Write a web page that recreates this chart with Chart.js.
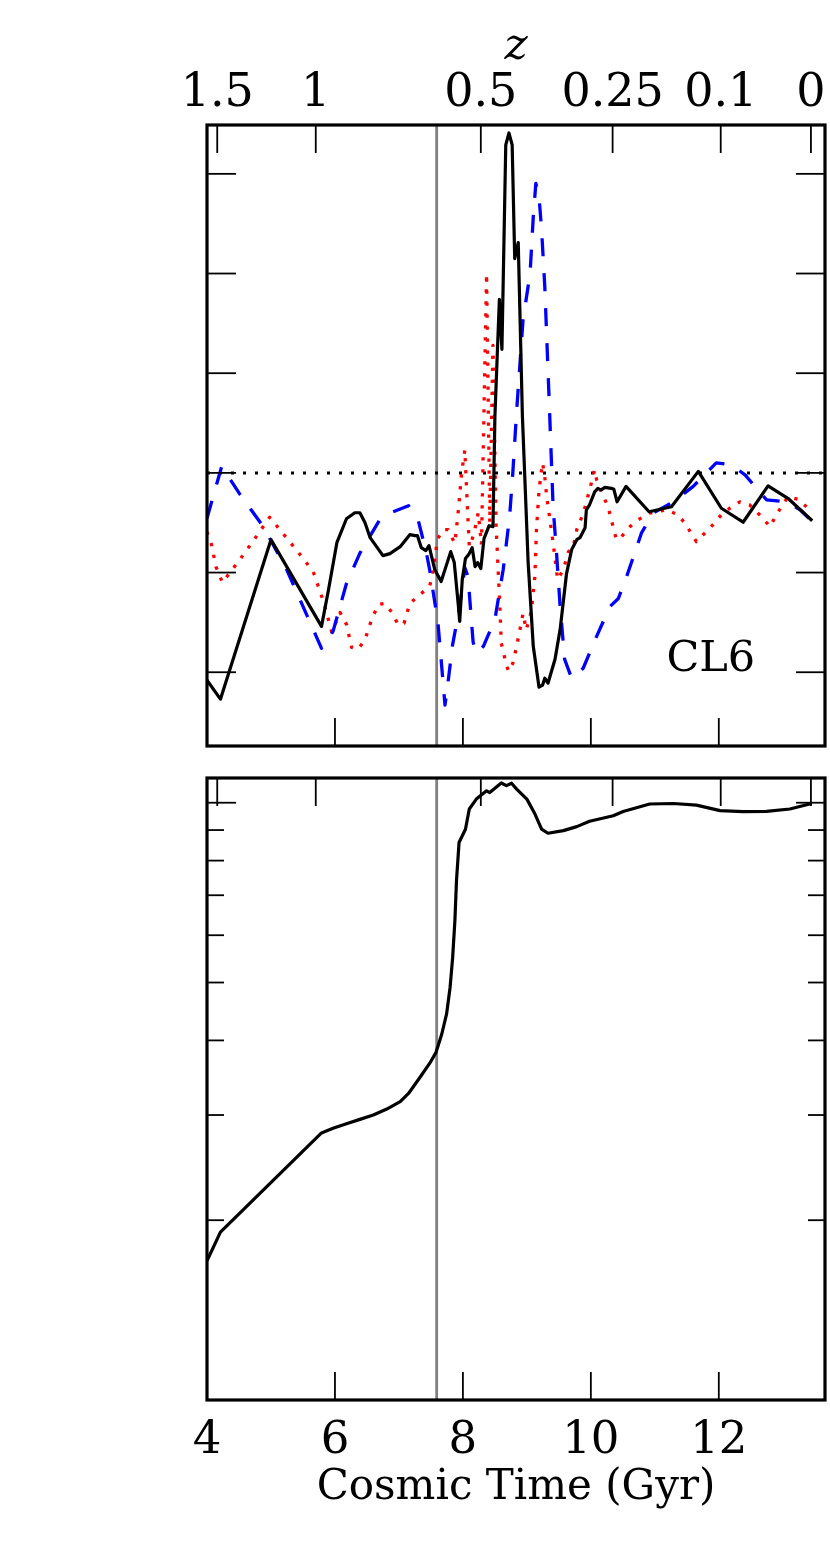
<!DOCTYPE html>
<html>
<head>
<meta charset="utf-8">
<script src="https://cdn.jsdelivr.net/npm/chart.js@4.4.1/dist/chart.umd.min.js"></script>
<style>
  html, body { margin: 0; padding: 0; background: #fff; }
  #wrap { position: relative; width: 830px; height: 1557px; }
  canvas { position: absolute; left: 0; }
  #top { top: 0; }
  #bottom { top: 760px; }
</style>
</head>
<body>
<div id="wrap">
  <canvas id="top" width="830" height="760"></canvas>
  <canvas id="bottom" width="830" height="797"></canvas>
</div>
<script>
// cosmic time axis (Gyr)
const tMin = 4;
const tMax = 13.66;
const ageTicks = [4, 6, 8, 10, 12];
// redshift ticks on the top axis, placed at their cosmic time
const zTickAges = [4.16, 5.70, 8.28, 10.34, 12.03, 13.44];
const zTickLabels = ['1.5', '1', '0.5', '0.25', '0.1', '0'];
const markAge = 7.59;

// top panel (no y labels), values are [time, value]
const topYMin = -2.74;
const topYMax = 3.49;
const topYTicks = [-2, -1, 0, 1, 2, 3];
const solidLine = [[4.00,-2.08],[4.21,-2.27],[5.00,-0.67],[5.79,-1.54],[5.90,-1.17],[6.03,-0.70],[6.18,-0.46],[6.31,-0.40],[6.39,-0.40],[6.47,-0.50],[6.55,-0.65],[6.75,-0.83],[6.86,-0.81],[7.02,-0.74],[7.17,-0.62],[7.25,-0.63],[7.29,-0.63],[7.35,-0.75],[7.42,-0.78],[7.47,-0.73],[7.56,-0.97],[7.66,-1.09],[7.81,-0.79],[7.865,-0.90],[7.93,-1.34],[7.95,-1.49],[7.99,-1.07],[8.04,-0.86],[8.09,-0.82],[8.145,-0.75],[8.19,-0.94],[8.23,-0.90],[8.28,-0.96],[8.33,-0.66],[8.41,-0.53],[8.47,-0.54],[8.50,0.56],[8.57,1.74],[8.61,1.24],[8.67,3.29],[8.72,3.41],[8.77,3.29],[8.81,2.15],[8.865,2.31],[8.93,0.57],[9.02,-0.90],[9.10,-1.74],[9.19,-2.15],[9.245,-2.13],[9.28,-2.06],[9.33,-2.11],[9.44,-1.87],[9.52,-1.57],[9.62,-1.01],[9.70,-0.77],[9.78,-0.67],[9.83,-0.65],[9.91,-0.55],[9.93,-0.37],[9.98,-0.32],[10.06,-0.19],[10.11,-0.155],[10.16,-0.17],[10.22,-0.145],[10.32,-0.155],[10.36,-0.165],[10.41,-0.29],[10.55,-0.135],[10.91,-0.39],[11.26,-0.34],[11.68,0.015],[12.04,-0.355],[12.38,-0.495],[12.77,-0.13],[13.08,-0.255],[13.46,-0.48]];
const dashedLine = [[4.00,-0.455],[4.23,0.065],[4.52,-0.22],[4.88,-0.54],[5.245,-0.97],[5.79,-1.76],[5.97,-1.59],[6.18,-1.11],[6.39,-0.805],[6.70,-0.47],[6.91,-0.39],[7.15,-0.33],[7.30,-0.47],[7.43,-0.805],[7.48,-0.97],[7.61,-1.50],[7.72,-2.33],[7.76,-2.14],[7.84,-1.72],[7.95,-1.34],[8.03,-0.95],[8.08,-1.04],[8.16,-1.70],[8.21,-1.81],[8.32,-1.74],[8.50,-1.47],[8.63,-0.97],[8.73,-0.44],[8.78,0.0],[8.84,0.62],[8.94,1.535],[9.05,2.0],[9.10,2.57],[9.14,2.905],[9.19,2.77],[9.23,2.44],[9.28,1.87],[9.32,1.20],[9.35,0.70],[9.41,-0.34],[9.46,-0.77],[9.52,-1.34],[9.59,-1.87],[9.70,-2.06],[9.88,-1.96],[10.09,-1.64],[10.30,-1.34],[10.43,-1.26],[10.56,-1.04],[10.79,-0.605],[10.97,-0.405],[11.29,-0.29],[11.60,-0.135],[11.96,0.10],[12.20,0.08],[12.41,-0.02],[12.745,-0.27],[13.06,-0.29],[13.27,-0.37],[13.45,-0.48]];
const dottedLine = [[4.00,-0.59],[4.07,-0.72],[4.14,-0.94],[4.24,-1.10],[4.36,-1.00],[4.57,-0.82],[4.78,-0.63],[4.98,-0.445],[5.19,-0.61],[5.43,-0.80],[5.66,-0.99],[5.83,-1.31],[5.95,-1.60],[6.08,-1.40],[6.18,-1.52],[6.26,-1.75],[6.36,-1.77],[6.47,-1.675],[6.57,-1.475],[6.68,-1.32],[6.78,-1.31],[6.89,-1.40],[6.99,-1.525],[7.08,-1.51],[7.17,-1.31],[7.33,-1.22],[7.48,-1.14],[7.54,-0.97],[7.60,-0.67],[7.69,-0.57],[7.77,-0.57],[7.82,-0.64],[7.875,-0.705],[7.93,-0.37],[7.98,0.0],[8.03,0.23],[8.06,-0.20],[8.10,-0.74],[8.17,-0.62],[8.24,-0.40],[8.29,-0.72],[8.37,2.00],[8.42,-0.50],[8.47,1.28],[8.52,-0.55],[8.58,-1.37],[8.60,-1.71],[8.66,-1.875],[8.71,-1.99],[8.78,-1.91],[8.84,-1.74],[8.89,-1.575],[8.94,-1.41],[8.99,-1.575],[9.07,-1.39],[9.125,-1.04],[9.15,-0.57],[9.19,-0.17],[9.245,0.10],[9.28,-0.04],[9.31,-0.24],[9.41,-0.70],[9.48,-1.07],[9.57,-0.97],[9.65,-0.79],[9.72,-0.755],[9.78,-0.57],[9.85,-0.455],[9.91,-0.34],[9.98,-0.17],[10.06,0.03],[10.09,-0.07],[10.17,-0.20],[10.27,-0.34],[10.32,-0.47],[10.40,-0.67],[10.48,-0.64],[10.61,-0.54],[10.74,-0.47],[10.92,-0.405],[11.18,-0.37],[11.36,-0.42],[11.47,-0.505],[11.65,-0.69],[11.91,-0.52],[12.04,-0.42],[12.17,-0.355],[12.33,-0.29],[12.48,-0.32],[12.59,-0.39],[12.69,-0.455],[12.80,-0.54],[12.90,-0.42],[13.08,-0.24],[13.24,-0.265],[13.37,-0.34]];

// bottom panel, log y
const botYMin = 1;
const botYMax = 11;
const botYTicks = [2, 3, 4, 5, 6, 7, 8, 9, 10];
const bottomLine = [[4.00,1.71],[4.21,1.91],[5.79,2.80],[5.97,2.85],[6.18,2.90],[6.39,2.95],[6.60,3.00],[6.81,3.07],[7.02,3.16],[7.15,3.26],[7.33,3.47],[7.48,3.66],[7.58,3.82],[7.67,4.10],[7.745,4.43],[7.80,4.91],[7.84,5.51],[7.875,6.35],[7.90,7.41],[7.94,8.58],[8.04,9.03],[8.10,9.76],[8.21,10.14],[8.37,10.47],[8.42,10.40],[8.60,10.79],[8.68,10.68],[8.76,10.78],[8.84,10.54],[9.00,10.14],[9.125,9.58],[9.23,9.03],[9.33,8.89],[9.57,8.98],[9.78,9.12],[9.98,9.31],[10.35,9.51],[10.505,9.67],[10.92,9.95],[11.29,9.97],[11.65,9.91],[12.02,9.70],[12.38,9.66],[12.745,9.67],[13.11,9.76],[13.45,9.97]];

const panelLabel = 'CL6';

Chart.defaults.font.family = "'DejaVu Serif', serif";
Chart.defaults.color = '#000';

const toXY = pts => pts.map(p => ({x: p[0], y: p[1]}));

const lineStyle = {pointRadius: 0, tension: 0, fill: false, borderCapStyle: 'butt', borderJoinStyle: 'round'};

// inward tick marks, frame and panel label
const framePlugin = {
  id: 'frame',
  afterDatasetsDraw(chart, args, opts) {
    const {ctx, chartArea: a, scales} = chart;
    const seg = (x1, y1, x2, y2) => { ctx.beginPath(); ctx.moveTo(x1, y1); ctx.lineTo(x2, y2); ctx.stroke(); };
    ctx.save();
    ctx.strokeStyle = '#000';
    ctx.lineWidth = 1.8;
    scales.x.ticks.forEach(t => {
      const px = scales.x.getPixelForValue(t.value);
      seg(px, a.bottom, px, a.bottom - 28);
    });
    scales.xTop.ticks.forEach(t => {
      const px = scales.xTop.getPixelForValue(t.value);
      seg(px, a.top, px, a.top + 28);
    });
    scales.y.ticks.forEach(t => {
      const py = scales.y.getPixelForValue(t.value);
      const len = t.major ? 29 : 17;
      seg(a.left, py, a.left + len, py);
      seg(a.right - len, py, a.right, py);
    });
    ctx.lineWidth = 3.2;
    ctx.strokeRect(a.left, a.top, a.right - a.left, a.bottom - a.top);
    if (opts.text) {
      ctx.fillStyle = '#000';
      ctx.font = "43px 'DejaVu Serif'";
      ctx.textAlign = 'center';
      ctx.textBaseline = 'middle';
      ctx.fillText(opts.text, scales.x.getPixelForValue(opts.x), scales.y.getPixelForValue(opts.y));
    }
    ctx.restore();
  }
};

function timeScales(topH, bottomH, showTop, showBottom) {
  return {
    x: {
      type: 'linear', position: 'bottom', min: tMin, max: tMax,
      afterBuildTicks: s => { s.ticks = ageTicks.map(v => ({value: v})); },
      ticks: {display: showBottom, autoSkip: false, maxRotation: 0, padding: 14, font: {size: 45},
              callback: v => String(v)},
      grid: {display: false, drawTicks: false},
      border: {display: false},
      title: {display: showBottom, text: 'Cosmic Time (Gyr)', font: {size: 42}, padding: {top: 0, bottom: 44}},
      afterFit: s => { s.height = bottomH; }
    },
    xTop: {
      type: 'linear', position: 'top', min: tMin, max: tMax,
      afterBuildTicks: s => { s.ticks = zTickAges.map(v => ({value: v})); },
      ticks: {display: showTop, autoSkip: false, maxRotation: 0, padding: 3, font: {size: 46},
              callback: (v, i) => zTickLabels[i]},
      grid: {display: false, drawTicks: false},
      border: {display: false},
      title: {display: showTop, text: 'z', font: {size: 44, style: 'italic'}, padding: {top: 21, bottom: 0}},
      afterFit: s => { s.height = topH; }
    }
  };
}

function baseOptions() {
  return {
    responsive: false,
    animation: false,
    devicePixelRatio: 1,
    events: [],
    layout: {padding: {left: 0, right: 5, top: 0, bottom: 0}},
    plugins: {legend: {display: false}, tooltip: {enabled: false}}
  };
}

// top panel
const topOpts = baseOptions();
topOpts.scales = Object.assign(timeScales(125, 14, true, false), {
  y: {
    type: 'linear', min: topYMin, max: topYMax,
    afterBuildTicks: s => { s.ticks = topYTicks.map(v => ({value: v, major: true})); },
    ticks: {display: false}, grid: {display: false, drawTicks: false}, border: {display: false},
    afterFit: s => { s.width = 207; }
  }
});
topOpts.plugins.frame = {text: panelLabel, x: 11.875, y: -1.875};

new Chart(document.getElementById('top'), {
  type: 'line',
  data: {
    datasets: [
      Object.assign({data: toXY(solidLine), borderColor: '#000', borderWidth: 3.2}, lineStyle),
      Object.assign({data: toXY(dashedLine), borderColor: '#0000ff', borderWidth: 3.3, borderDash: [18, 17]}, lineStyle),
      Object.assign({data: toXY(dottedLine), borderColor: '#ff0000', borderWidth: 3.3, borderDash: [3.3, 8.7]}, lineStyle),
      Object.assign({data: [{x: tMin, y: 0}, {x: tMax, y: 0}], borderColor: '#000', borderWidth: 3, borderDash: [3, 9]}, lineStyle),
      Object.assign({data: [{x: markAge, y: topYMin}, {x: markAge, y: topYMax}], borderColor: '#808080', borderWidth: 2.8}, lineStyle)
    ]
  },
  options: topOpts,
  plugins: [framePlugin]
});

// bottom panel
const botOpts = baseOptions();
botOpts.scales = Object.assign(timeScales(18, 157, false, true), {
  y: {
    type: 'logarithmic', min: botYMin, max: botYMax,
    afterBuildTicks: s => { s.ticks = botYTicks.map(v => ({value: v, major: v === 10})); },
    ticks: {display: false}, grid: {display: false, drawTicks: false}, border: {display: false},
    afterFit: s => { s.width = 207; }
  }
});
botOpts.plugins.frame = {};

new Chart(document.getElementById('bottom'), {
  type: 'line',
  data: {
    datasets: [
      Object.assign({data: toXY(bottomLine), borderColor: '#000', borderWidth: 3.2}, lineStyle),
      Object.assign({data: [{x: markAge, y: botYMin}, {x: markAge, y: botYMax}], borderColor: '#808080', borderWidth: 2.8}, lineStyle)
    ]
  },
  options: botOpts,
  plugins: [framePlugin]
});
</script>
</body>
</html>
